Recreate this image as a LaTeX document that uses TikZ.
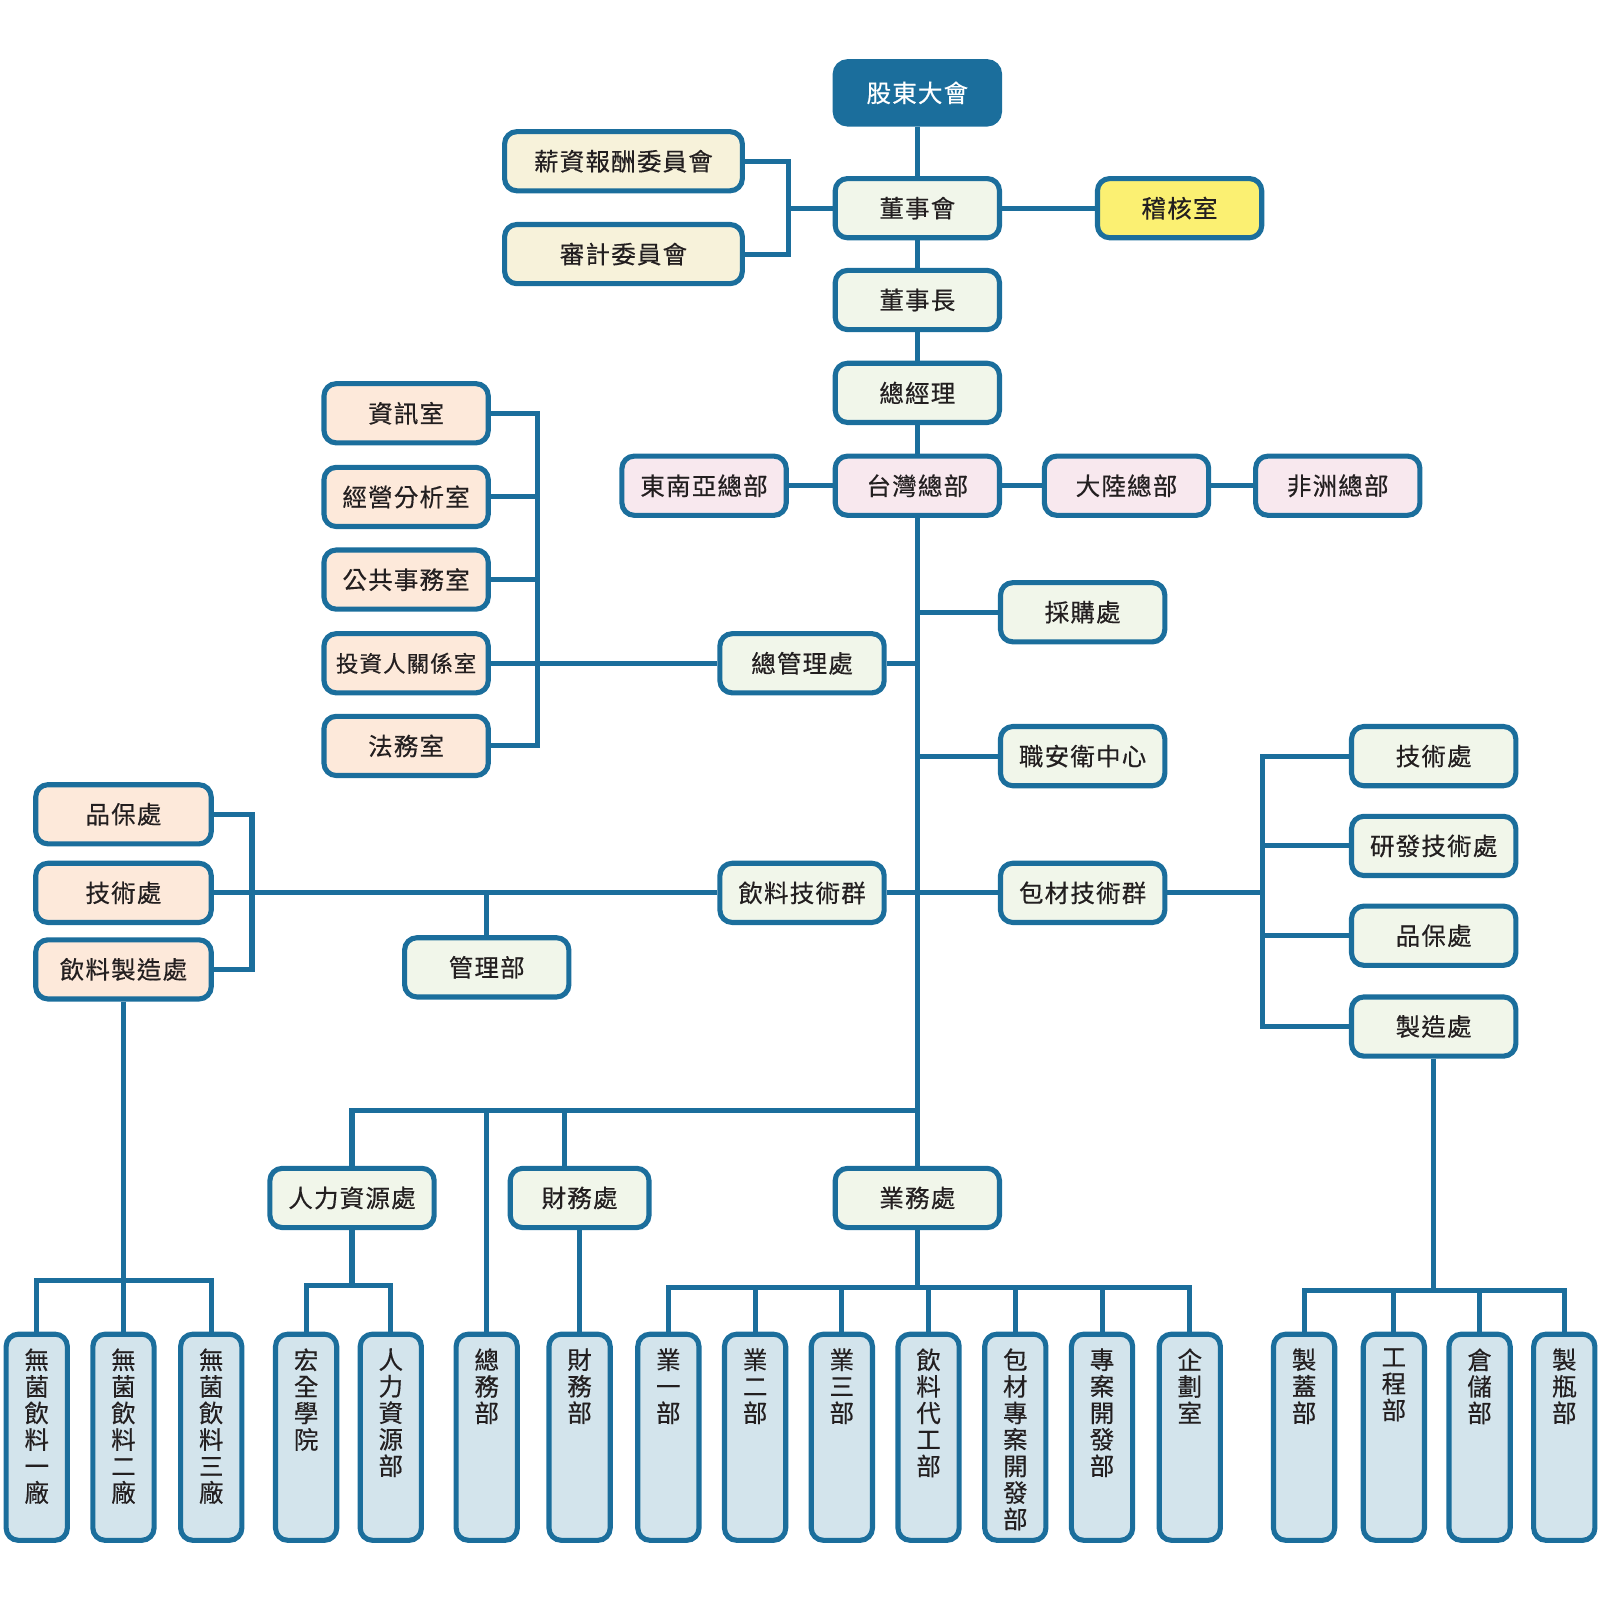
\documentclass[tikz,border=0pt]{standalone}
\usepackage{fontspec}
\newfontfamily\cjk[LetterSpace=5,FakeBold=0.4]{Noto Sans CJK TC}
\definecolor{orgblue}{HTML}{1B6E9C}
\definecolor{boxgreen}{HTML}{F1F6EA}
\definecolor{boxyellow}{HTML}{FBF072}
\definecolor{boxcream}{HTML}{F7F2DA}
\definecolor{boxpeach}{HTML}{FDE9DA}
\definecolor{boxpink}{HTML}{F8E8EE}
\definecolor{boxblue}{HTML}{D3E4EC}
\definecolor{txt}{HTML}{231F20}
\newcommand{\vlab}[1]{\parbox[c][87pt][t]{14pt}{\centering\fontsize{12}{13}\selectfont #1}}

\begin{document}
\begin{tikzpicture}[x=0.5pt,y=-0.5pt]
	\tikzset{
		box/.style={draw=orgblue, line width=2.5pt, rounded corners=6pt, fill=boxgreen,
			minimum width=80.5pt, minimum height=29pt, inner sep=0pt, text=txt,
			font=\cjk\fontsize{12}{13}\selectfont},
		wide/.style={minimum width=116.5pt},
		vbox/.style={box, fill=boxblue, anchor=north, minimum width=30pt, inner xsep=8pt, inner ysep=7pt},
		link/.style={draw=orgblue, line width=2.5pt}
	}
	\useasboundingbox (0,0) rectangle (1568,1568);
	% top of the chart
	\node [box, fill=orgblue, text=white, minimum height=30.5pt] (gm) at (899,91) {股東大會};
	\node [box] (board) at (899,204) {董事會};
	\node [box, fill=boxyellow] (audit) at (1156,204) {稽核室};
	\node [box, wide, fill=boxcream] (salary) at (611,158) {薪資報酬委員會};
	\node [box, wide, fill=boxcream] (auditcom) at (611,249) {審計委員會};
	\node [box] (chair) at (899,294) {董事長};
	\node [box] (pres) at (899,385) {總經理};
	\node [box, fill=boxpink] (tw) at (899,476) {台灣總部};
	\node [box, fill=boxpink] (sea) at (690,476) {東南亞總部};
	\node [box, fill=boxpink] (cn) at (1104,476) {大陸總部};
	\node [box, fill=boxpink] (af) at (1311,476) {非洲總部};
	% staff offices
	\node [box, fill=boxpeach] (info) at (398,405) {資訊室};
	\node [box, fill=boxpeach] (biz) at (398,487) {經營分析室};
	\node [box, fill=boxpeach] (pub) at (398,568) {公共事務室};
	\node [box, fill=boxpeach, font=\cjk\fontsize{11}{13}\selectfont] (ir) at (398,650) {投資人關係室};
	\node [box, fill=boxpeach] (law) at (398,731) {法務室};
	\node [box] (admin) at (786,650) {總管理處};
	\node [box] (purch) at (1061,600) {採購處};
	\node [box] (safety) at (1061,741) {職安衛中心};
	% technology groups
	\node [box] (bev) at (786,875) {飲料技術群};
	\node [box] (pack) at (1061,875) {包材技術群};
	\node [box, fill=boxpeach, minimum width=86pt] (qa1) at (121,798) {品保處};
	\node [box, fill=boxpeach, minimum width=86pt] (tech1) at (121,875) {技術處};
	\node [box, fill=boxpeach, minimum width=86pt] (bmfg) at (121,950) {飲料製造處};
	\node [box] (mgmt) at (477,948) {管理部};
	\node [box] (tech2) at (1405,741) {技術處};
	\node [box] (rnd) at (1405,829) {研發技術處};
	\node [box] (qa2) at (1405,917) {品保處};
	\node [box] (mfg2) at (1405,1006) {製造處};
	% divisions
	\node [box] (hrm) at (345,1174) {人力資源處};
	\node [box, minimum width=68pt] (fin) at (568,1174) {財務處};
	\node [box] (sales) at (899,1174) {業務處};
	% bottom row
	\node [vbox] (f1) at (36,1305) {\vlab{無\\菌\\飲\\料\\一\\廠}};
	\node [vbox] (f2) at (121,1305) {\vlab{無\\菌\\飲\\料\\二\\廠}};
	\node [vbox] (f3) at (207,1305) {\vlab{無\\菌\\飲\\料\\三\\廠}};
	\node [vbox] (acad) at (300,1305) {\vlab{宏\\全\\學\\院}};
	\node [vbox] (hrd) at (383,1305) {\vlab{人\\力\\資\\源\\部}};
	\node [vbox] (gad) at (477,1305) {\vlab{總\\務\\部}};
	\node [vbox] (fdept) at (568,1305) {\vlab{財\\務\\部}};
	\node [vbox] (s1) at (655,1305) {\vlab{業\\一\\部}};
	\node [vbox] (s2) at (740,1305) {\vlab{業\\二\\部}};
	\node [vbox] (s3) at (825,1305) {\vlab{業\\三\\部}};
	\node [vbox] (s4) at (910,1305) {\vlab{飲\\料\\代\\工\\部}};
	\node [vbox] (s5) at (995,1305) {\vlab{包\\材\\專\\案\\開\\發\\部}};
	\node [vbox] (s6) at (1080,1305) {\vlab{專\\案\\開\\發\\部}};
	\node [vbox] (plan) at (1166,1305) {\vlab{企\\劃\\室}};
	\node [vbox] (cap) at (1278,1305) {\vlab{製\\蓋\\部}};
	\node [vbox] (eng) at (1366,1305) {\vlab{工\\程\\部}};
	\node [vbox] (wh) at (1450,1305) {\vlab{倉\\儲\\部}};
	\node [vbox] (bottle) at (1533,1305) {\vlab{製\\瓶\\部}};
	% junctions
	\coordinate (cj) at (773,204);
	\coordinate (lj) at (527,650);
	\coordinate (bj) at (247,875);
	\coordinate (rj) at (1237,875);
	\coordinate (bus) at (899,1088);
	\coordinate (finj) at (553,1088);
	% connectors
	\draw [link] (gm) -- (board);
	\draw [link] (board) -- (chair);
	\draw [link] (chair) -- (pres);
	\draw [link] (pres) -- (tw);
	\draw [link] (board) -- (audit);
	\draw [link] (board) -- (cj);
	\draw [link] (salary.east) -| (cj) |- (auditcom.east);
	\draw [link] (sea) -- (tw);
	\draw [link] (tw) -- (cn);
	\draw [link] (cn) -- (af);
	\draw [link] (info.east) -| (lj) |- (law.east);
	\draw [link] (biz.east) -- (biz.east -| lj);
	\draw [link] (pub.east) -- (pub.east -| lj);
	\draw [link] (ir) -- (admin);
	\draw [link] (admin.east) -- (admin.east -| tw);
	\draw [link] (tw) -- (sales);
	\draw [link] (purch.west) -- (purch.west -| tw);
	\draw [link] (safety.west) -- (safety.west -| tw);
	\draw [link] (bev) -- (pack);
	\draw [link] (tech1) -- (bev);
	\draw [link] (qa1.east) -| (bj) |- (bmfg.east);
	\draw [link] (mgmt.north) -- (mgmt.north |- bev);
	\draw [link] (pack) -- (rj);
	\draw [link] (tech2.west) -| (rj) |- (mfg2.west);
	\draw [link] (rnd.west) -- (rnd.west -| rj);
	\draw [link] (qa2.west) -- (qa2.west -| rj);
	\draw [link] (hrm.north) |- (bus);
	\draw [link] (gad.north) -- (gad.north |- bus);
	\draw [link] (finj) -- (finj |- fin.north);
	\draw [link] (bmfg) -- (f2);
	\draw [link] (f1.north) |- (f2.north |- 0,1255) -| (f3.north);
	\draw [link] (hrm.south) -- (hrm.south |- 0,1260);
	\draw [link] (acad.north) |- (hrm.south |- 0,1260) -| (hrd.north);
	\draw [link] (fin) -- (fdept);
	\draw [link] (sales.south) -- (sales.south |- 0,1262);
	\draw [link] (s1.north) |- (sales.south |- 0,1262) -| (plan.north);
	\foreach \n in {s2,s3,s4,s5,s6}
		\draw [link] (\n.north) -- (\n.north |- 0,1262);
	\draw [link] (mfg2.south) -- (mfg2.south |- 0,1265);
	\draw [link] (cap.north) |- (mfg2.south |- 0,1265) -| (bottle.north);
	\foreach \n in {eng,wh}
		\draw [link] (\n.north) -- (\n.north |- 0,1265);
\end{tikzpicture}
\end{document}
